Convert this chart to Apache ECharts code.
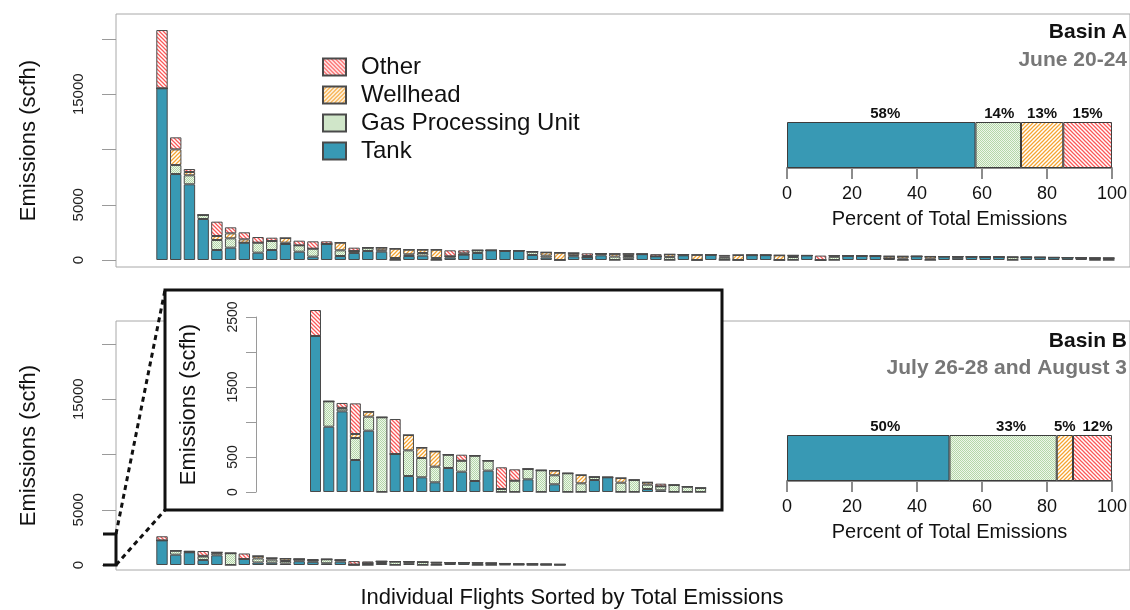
<!DOCTYPE html>
<html>
<head>
<meta charset="utf-8">
<script src="https://cdn.jsdelivr.net/npm/echarts@6/dist/echarts.min.js"></script>
<style>
  html, body { margin: 0; padding: 0; background: #fff; }
  #chart { width: 1130px; height: 610px; }
</style>
</head>
<body>
<div id="chart"></div>
<script>
// Emission sources, bottom of each stack first
const sourceNames = ['Tank', 'Gas Processing Unit', 'Wellhead', 'Other'];
const legendOrder = ['Other', 'Wellhead', 'Gas Processing Unit', 'Tank'];

// Basin A: 70 flights sorted by total emissions (scfh)
const basinATank = [15540, 7780, 6850, 3710, 905, 1116, 1569, 663, 905, 1448,
  754, 302, 1448, 362, 637, 817, 757, 0, 366, 396,
  0, 216, 486, 636, 876, 820, 846, 455, 215, 0,
  334, 244, 424, 0, 160, 530, 330, 0, 423, 0,
  470, 0, 0, 440, 440, 0, 0, 410, 0, 0,
  380, 370, 360, 140, 0, 330, 0, 310, 200, 290,
  280, 270, 0, 250, 240, 230, 220, 200, 0, 0];
const basinAGpu = [0, 814, 814, 360, 905, 845, 0, 905, 814, 120,
  573, 724, 0, 513, 180, 300, 120, 181, 150, 240,
  176, 120, 0, 240, 0, 30, 0, 300, 180, 0,
  100, 0, 150, 310, 200, 0, 0, 263, 60, 0,
  0, 210, 0, 0, 0, 0, 270, 0, 0, 290,
  0, 0, 0, 0, 135, 0, 120, 0, 100, 0,
  0, 0, 260, 0, 0, 0, 0, 0, 180, 170];
const basinAWellhead = [0, 1420, 300, 0, 362, 452, 302, 0, 0, 422,
  0, 0, 0, 695, 0, 0, 240, 846, 420, 300,
  760, 0, 120, 0, 0, 0, 0, 0, 300, 664,
  200, 120, 0, 250, 200, 0, 0, 250, 0, 470,
  0, 100, 453, 0, 0, 430, 150, 0, 0, 100,
  0, 0, 0, 200, 200, 0, 200, 0, 0, 0,
  0, 0, 0, 0, 0, 0, 0, 0, 0, 0];
const basinAOther = [5270, 1086, 270, 0, 1297, 543, 633, 513, 302, 0,
  422, 664, 241, 0, 300, 0, 0, 0, 0, 0,
  0, 540, 270, 0, 0, 0, 0, 0, 0, 0,
  0, 240, 0, 0, 0, 0, 200, 0, 0, 0,
  0, 150, 0, 0, 0, 0, 0, 0, 400, 0,
  0, 0, 0, 0, 0, 0, 0, 0, 0, 0,
  0, 0, 0, 0, 0, 0, 0, 0, 0, 0];

// Basin B: 30 flights sorted by total emissions (scfh)
const basinBTank = [2229, 933, 1152, 457, 876, 0, 543, 228, 210, 138,
  343, 290, 157, 305, 0, 0, 181, 0, 110, 0,
  0, 171, 210, 0, 0, 43, 24, 0, 0, 0];
const basinBGpu = [0, 362, 40, 314, 200, 1067, 0, 367, 276, 224,
  190, 157, 362, 143, 43, 162, 148, 310, 129, 267,
  124, 43, 0, 133, 171, 62, 57, 100, 76, 57];
const basinBWellhead = [0, 0, 10, 57, 71, 0, 0, 219, 148, 219,
  0, 0, 0, 0, 0, 0, 0, 0, 67, 0,
  119, 0, 0, 67, 0, 33, 0, 0, 0, 0];
const basinBOther = [371, 0, 70, 438, 0, 0, 500, 0, 0, 0,
  0, 86, 0, 0, 310, 162, 0, 0, 0, 0,
  0, 0, 0, 0, 0, 0, 38, 0, 0, 0];

// Share of total emissions by source (%), Tank / GPU / Wellhead / Other
const basinAShare = [58, 14, 13, 15];
const basinBShare = [50, 33, 5, 12];

// Axis ticks and labels
const emissionTicks = [0, 5000, 10000, 15000, 20000];
const emissionLabels = [0, 5000, 15000];
const insetTicks = [0, 500, 1000, 1500, 2000, 2500];
const insetLabels = [0, 500, 1500, 2500];
const insetSpan = 2800; // emission range magnified by the inset

const basinATitle = ['Basin A', 'June 20-24'];
const basinBTitle = ['Basin B', 'July 26-28 and August 3'];
const axisTitle = 'Emissions (scfh)';
const flightsTitle = 'Individual Flights Sorted by Total Emissions';
const percentTitle = 'Percent of Total Emissions';

// ---------- fills ----------
function tile(draw) {
  const c = document.createElement('canvas');
  c.width = 4; c.height = 4;
  const g = c.getContext('2d');
  draw(g, 4);
  return { image: c, repeat: 'repeat' };
}
function hatch(color, rising) {
  return tile((g, s) => {
    g.fillStyle = '#ffffff';
    g.fillRect(0, 0, s, s);
    g.strokeStyle = color;
    g.lineWidth = 1.25;
    g.beginPath();
    if (rising) {
      g.moveTo(-1, 1); g.lineTo(1, -1);
      g.moveTo(0, s); g.lineTo(s, 0);
      g.moveTo(s - 1, s + 1); g.lineTo(s + 1, s - 1);
    } else {
      g.moveTo(0, 0); g.lineTo(s, s);
      g.moveTo(-1, s - 1); g.lineTo(1, s + 1);
      g.moveTo(s - 1, -1); g.lineTo(s + 1, 1);
    }
    g.stroke();
  });
}
const checker = tile((g, s) => {
  g.fillStyle = '#eef6ea';
  g.fillRect(0, 0, s, s);
  g.fillStyle = '#b3d7a8';
  for (let y = 0; y < s; y++) for (let x = 0; x < s; x++) if ((x + y) % 2 === 0) g.fillRect(x, y, 1, 1);
});
const sourceFills = ['#3899b4', checker, hatch('#f5a431', true), hatch('#fb5757', false)];
const segmentBorder = '#4a4a4a';

// ---------- layout ----------
const FONT = '"Liberation Sans", Arial, Helvetica, sans-serif';
const panelLeft = 116;
const panelWidth = 1030;            // frame runs past the right edge
const barStep = 13.72, barPx = 11.4;
const plotLeft = 162 - barStep / 2; // first flight centred at x = 162
const insetAxisX = 256, insetStep = 13.28;
const insetPlotLeft = 315.5 - insetStep / 2;

const chart = echarts.init(document.getElementById('chart'), null, { renderer: 'canvas' });

const plainNumber = (v) => String(v);

function emissionAxis(gridIndex, min, max) {
  return {
    gridIndex, type: 'value', min, max,
    offset: plotLeft - panelLeft,
    axisLine: { show: false },
    splitLine: { show: false },
    axisTick: { show: true, customValues: emissionTicks, length: 14, lineStyle: { color: '#9a9a9a', width: 1 } },
    axisLabel: { customValues: emissionLabels, formatter: plainNumber, rotate: 90, fontSize: 15, color: '#222', margin: 30, fontFamily: FONT },
    name: axisTitle, nameLocation: 'middle', nameRotate: 90, nameGap: 76,
    nameTextStyle: { fontSize: 22, color: '#111', fontFamily: FONT }
  };
}
function flightAxis(gridIndex, count) {
  return {
    gridIndex, type: 'category', show: false, boundaryGap: true,
    data: Array.from({ length: count }, (_, i) => String(i + 1))
  };
}
function flightSeries(columns, axisIndex, stackId, width) {
  return columns.map((col, k) => ({
    name: sourceNames[k], type: 'bar', stack: stackId,
    xAxisIndex: axisIndex, yAxisIndex: axisIndex,
    barWidth: width, clip: false, silent: true,
    itemStyle: { color: sourceFills[k], borderColor: segmentBorder, borderWidth: 1 },
    data: col
  }));
}
function percentAxis(gridIndex) {
  return {
    gridIndex, type: 'value', min: 0, max: 100, interval: 20,
    axisLine: { show: true, lineStyle: { color: '#8c8c8c', width: 2 } },
    axisTick: { show: true, length: 11, lineStyle: { color: '#8c8c8c', width: 2 } },
    axisLabel: { fontSize: 18, color: '#111', margin: 17, fontFamily: FONT },
    splitLine: { show: false },
    name: percentTitle, nameLocation: 'middle', nameGap: 41,
    nameTextStyle: { fontSize: 20, color: '#111', fontFamily: FONT }
  };
}
function shareSeries(shares, axisIndex, offsets) {
  return shares.map((v, k) => ({
    name: sourceNames[k], type: 'bar', stack: 'share' + axisIndex,
    xAxisIndex: axisIndex, yAxisIndex: axisIndex, barWidth: 46, silent: true,
    itemStyle: { color: sourceFills[k], borderColor: '#3c3c3c', borderWidth: 1 },
    label: {
      show: true, position: 'top', distance: 1, offset: [offsets[k], 0],
      formatter: '{c}%', fontSize: 15, fontWeight: 'bold', color: '#111', fontFamily: FONT
    },
    data: [v]
  }));
}
const hiddenValue = (gridIndex) => ({ gridIndex, type: 'value', show: false });

const option = {
  animation: false,
  backgroundColor: '#ffffff',
  textStyle: { fontFamily: FONT },
  legend: {
    data: legendOrder, orient: 'vertical', left: 322, top: 55,
    itemWidth: 23, itemHeight: 17, itemGap: 4, padding: 0,
    selectedMode: false, icon: 'rect',
    textStyle: { fontSize: 24, color: '#111', fontFamily: FONT, padding: [0, 0, 0, 10] }
  },
  grid: [
    // panel frames
    { left: panelLeft, top: 14, width: panelWidth, height: 253, show: true, borderColor: '#a8a8a8', borderWidth: 1 },
    { left: panelLeft, top: 321, width: panelWidth, height: 249, show: true, borderColor: '#a8a8a8', borderWidth: 1 },
    // flight bars
    { left: plotLeft, top: 14, width: barStep * basinATank.length, height: 253 },
    { left: plotLeft, top: 321, width: barStep * basinBTank.length, height: 249 },
    { left: insetPlotLeft, top: 317, width: insetStep * basinBTank.length, height: 175, z: 5 },
    // source shares
    { left: 787, top: 122, width: 330, height: 46 },
    { left: 787, top: 435, width: 330, height: 46 }
  ],
  xAxis: [
    hiddenValue(0), hiddenValue(1),
    flightAxis(2, basinATank.length),
    flightAxis(3, basinBTank.length),
    flightAxis(4, basinBTank.length),
    percentAxis(5),
    percentAxis(6)
  ],
  yAxis: [
    hiddenValue(0), hiddenValue(1),
    // 0 scfh sits 7 px above the frame bottom, 20000 scfh 221 px higher
    emissionAxis(2, -633, 22262),
    emissionAxis(3, -452, 22081),
    {
      gridIndex: 4, type: 'value', min: 0, max: 2500, z: 5,
      offset: insetPlotLeft - insetAxisX,
      axisLine: { show: true, onZero: false, lineStyle: { color: '#9a9a9a' } },
      splitLine: { show: false },
      axisTick: { show: true, customValues: insetTicks, length: 10, lineStyle: { color: '#9a9a9a' } },
      axisLabel: { customValues: insetLabels, formatter: plainNumber, rotate: 90, fontSize: 14, color: '#222', margin: 16, fontFamily: FONT },
      name: axisTitle, nameLocation: 'middle', nameRotate: 90, nameGap: 56,
      nameTextStyle: { fontSize: 22, color: '#111', fontFamily: FONT }
    },
    { gridIndex: 5, type: 'category', data: ['share'], show: false },
    { gridIndex: 6, type: 'category', data: ['share'], show: false }
  ],
  series: [].concat(
    flightSeries([basinATank, basinAGpu, basinAWellhead, basinAOther], 2, 'flightsA', barPx),
    flightSeries([basinBTank, basinBGpu, basinBWellhead, basinBOther], 3, 'flightsB', barPx),
    flightSeries([basinBTank, basinBGpu, basinBWellhead, basinBOther], 4, 'insetB', 11),
    shareSeries(basinAShare, 5, [4, 1, 0, 0]),
    shareSeries(basinBShare, 6, [17, 8, 0, 5])
  )
};
// inset series draw above the white inset box
option.series.forEach((s) => { if (s.xAxisIndex === 4) s.z = 6; });
chart.setOption(option);

// Bracket on the Basin B axis and the dashed leader lines to the inset
const yZero = chart.convertToPixel({ yAxisIndex: 3 }, 0);
const ySpan = chart.convertToPixel({ yAxisIndex: 3 }, insetSpan);
const box = { x1: 165, y1: 290, x2: 722, y2: 510 };
const ink = '#111';
chart.setOption({
  graphic: [
    { type: 'rect', z: 1, shape: { x: box.x1, y: box.y1, width: box.x2 - box.x1, height: box.y2 - box.y1 },
      style: { fill: '#fff', stroke: ink, lineWidth: 3 } },
    { type: 'polyline', z: 1, shape: { points: [[103, ySpan], [panelLeft, ySpan], [panelLeft, yZero], [103, yZero]] },
      style: { stroke: ink, lineWidth: 3, fill: null } },
    { type: 'line', z: 1, shape: { x1: panelLeft, y1: ySpan, x2: box.x1, y2: box.y1 },
      style: { stroke: ink, lineWidth: 3, lineDash: [5, 4] } },
    { type: 'line', z: 1, shape: { x1: panelLeft, y1: yZero, x2: box.x1, y2: box.y2 },
      style: { stroke: ink, lineWidth: 3, lineDash: [5, 4] } },
    { type: 'text', z: 3, x: 1127, y: 32, style: { text: basinATitle[0], textAlign: 'right', textVerticalAlign: 'middle', fontSize: 21, fontWeight: 'bold', fill: '#111', fontFamily: FONT } },
    { type: 'text', z: 3, x: 1127, y: 60, style: { text: basinATitle[1], textAlign: 'right', textVerticalAlign: 'middle', fontSize: 21, fontWeight: 'bold', fill: '#777', fontFamily: FONT } },
    { type: 'text', z: 3, x: 1127, y: 341, style: { text: basinBTitle[0], textAlign: 'right', textVerticalAlign: 'middle', fontSize: 21, fontWeight: 'bold', fill: '#111', fontFamily: FONT } },
    { type: 'text', z: 3, x: 1127, y: 368, style: { text: basinBTitle[1], textAlign: 'right', textVerticalAlign: 'middle', fontSize: 21, fontWeight: 'bold', fill: '#777', fontFamily: FONT } },
    { type: 'text', z: 3, x: 572, y: 598, style: { text: flightsTitle, textAlign: 'center', textVerticalAlign: 'middle', fontSize: 22, fill: '#111', fontFamily: FONT } }
  ]
});
</script>
</body>
</html>
